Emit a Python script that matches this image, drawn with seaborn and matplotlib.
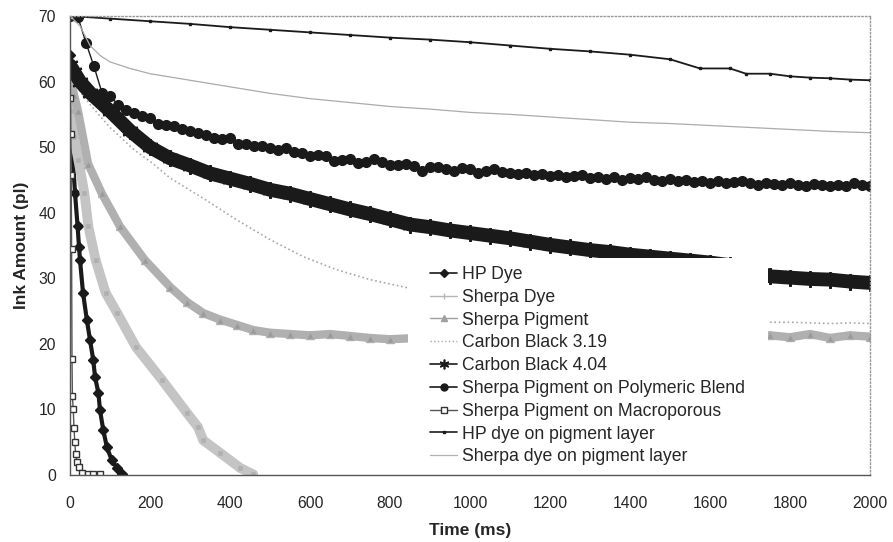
import matplotlib
matplotlib.use("Agg")
import matplotlib.pyplot as plt
from matplotlib.lines import Line2D
from matplotlib.patches import Rectangle
import seaborn as sns

sns.set_style("white")
plt.rcParams["font.family"] = ["Liberation Sans", "DejaVu Sans"]

# --- data (time in ms, ink amount in pl) ---
hp_dye_t = [0, 2, 4, 6, 7.5, 12.5, 19, 22.5, 25, 32.5, 42, 50, 58, 62.5, 71, 75, 83, 92, 104, 117, 129]
hp_dye_v = [64, 60, 55, 50, 48, 43, 37.9, 34.8, 32.8, 27.8, 23.7, 20.6, 17.6, 15, 12.5, 9.9, 6.9, 4.3, 2.3, 1.1, 0.1]

sherpa_dye_t = [0, 5, 10, 21, 36, 46, 64, 89, 118, 165, 230, 292, 320, 333, 375, 425, 458]
sherpa_dye_v = [61, 55.5, 51.5, 48, 43, 37.9, 32.8, 27.8, 24.7, 19.5, 14.5, 9.5, 7.3, 5.3, 3.4, 1.1, 0.1]

sherpa_pig_t = [0, 10, 20, 45, 79, 125, 187, 250, 292, 333, 375, 417, 458, 500, 550, 600, 650, 700, 750,
                800, 900, 1000, 1100, 1200, 1300, 1400, 1500, 1600, 1700, 1750, 1800, 1850, 1900, 1950, 2000]
sherpa_pig_v = [61, 58, 55.5, 47.5, 43, 37.9, 32.8, 28.7, 26.4, 24.7, 23.7, 22.9, 22.1, 21.7, 21.5, 21.3, 21.5, 21.2, 20.9,
                20.7, 21, 21, 21, 21, 21, 21, 21, 21, 21, 21.3, 21.0, 21.5, 20.9, 21.3, 21.1]

cb319_t = [0, 25, 50, 100, 160, 205, 250, 333, 417, 500, 583, 667, 750, 833, 900, 1000, 1100, 1200, 1300,
           1400, 1500, 1600, 1700, 1750, 1800, 1850, 1900, 1950, 2000]
cb319_v = [61, 58.5, 56.5, 53, 49.6, 47.6, 45.3, 42.2, 38.9, 35.9, 33.3, 31.3, 29.8, 28.7, 27.8, 26.9, 26.2, 25.6, 25,
           24.5, 24.1, 23.8, 23.5, 23.3, 23.3, 23.2, 23.1, 23.2, 23.1]

cb404_t = [0, 10, 25, 50, 100, 150, 200, 250, 300, 350, 400, 450, 500, 550, 600, 650, 700, 750, 800, 850, 900,
           950, 1000, 1050, 1100, 1150, 1200, 1250, 1300, 1350, 1400, 1450, 1500, 1550, 1600, 1650, 1700, 1750,
           1800, 1850, 1900, 1950, 2000]
cb404_v = [62.5, 61.5, 60, 58.3, 55.5, 52.5, 50.0, 48.3, 47.2, 46.0, 45.2, 44.4, 43.5, 42.9, 42.1, 41.3, 40.5, 39.8,
           39.0, 38.2, 37.8, 37.3, 36.9, 36.5, 36.1, 35.6, 35.1, 34.7, 34.3, 34.0, 33.6, 33.3, 33.0, 32.7, 32.4,
           32.0, 31.5, 30.3, 30.1, 29.9, 29.8, 29.5, 29.3]

poly_t = list(range(0, 2001, 20))
poly_v = [70, 69.8, 65.9, 62.3, 58.3, 57.8, 56.5, 55.7, 55.2, 54.7, 54.5, 53.5, 53.4, 53.3, 52.8, 52.5, 52.2, 51.9,
          51.4, 51.2, 51.4, 50.5, 50.5, 50.2, 50.1, 49.9, 49.5, 49.9, 49.3, 49.1, 48.7, 48.8, 48.7, 47.9, 48.1, 48.2,
          47.6, 47.8, 48.2, 47.8, 47.3, 47.3, 47.5, 47.1, 46.4, 46.9, 47.0, 46.6, 46.3, 46.8, 46.7, 46.1, 46.3, 46.7,
          46.2, 46.0, 45.9, 46.1, 45.7, 45.9, 45.6, 45.8, 45.4, 45.6, 45.7, 45.3, 45.5, 45.2, 45.4, 45.0, 45.3, 45.1,
          45.4, 45.0, 44.8, 45.1, 44.9, 45.0, 44.7, 44.9, 44.6, 44.8, 44.5, 44.7, 44.9, 44.5, 44.3, 44.6, 44.4, 44.2,
          44.5, 44.3, 44.1, 44.4, 44.2, 44.0, 44.3, 44.1, 44.5, 44.2, 44.0]

macro_t = [0, 1, 2, 3, 4, 5, 6, 8, 10, 12, 14, 18, 22, 30, 45, 58, 75]
macro_v = [70, 57.5, 52, 45.8, 34.5, 17.7, 12, 10.1, 7.2, 5, 3.2, 2.0, 1.2, 0.3, 0.2, 0.1, 0.1]

hp_pig_t = [0, 100, 200, 300, 400, 500, 600, 700, 800, 900, 1000, 1100, 1200, 1300, 1400, 1500, 1575, 1650,
            1690, 1750, 1800, 1850, 1900, 1950, 2000]
hp_pig_v = [70, 69.6, 69.2, 68.8, 68.3, 67.9, 67.5, 67.1, 66.7, 66.4, 66.0, 65.5, 65.0, 64.6, 64.1, 63.4, 62.0,
            62.0, 61.2, 61.2, 60.8, 60.6, 60.5, 60.3, 60.2]

sherpa_pig_layer_t = [0, 25, 50, 75, 100, 150, 200, 300, 400, 500, 600, 700, 800, 900, 1000, 1100, 1200, 1300,
                      1400, 1500, 1600, 1700, 1800, 1900, 2000]
sherpa_pig_layer_v = [70, 68.5, 65.5, 64, 63, 62, 61.2, 60.2, 59.2, 58.2, 57.4, 56.8, 56.2, 55.8, 55.3, 55, 54.6,
                      54.2, 53.8, 53.6, 53.3, 53.0, 52.7, 52.4, 52.2]

labels = ["HP Dye", "Sherpa Dye", "Sherpa Pigment", "Carbon Black 3.19", "Carbon Black 4.04",
          "Sherpa Pigment on Polymeric Blend", "Sherpa Pigment on Macroporous",
          "HP dye on pigment layer", "Sherpa dye on pigment layer"]

ASTERISK = (6, 2, 0)

fig = plt.figure(figsize=(8.93, 5.42), dpi=100)
ax = fig.add_axes([70 / 893, 67 / 542, 800 / 893, 459 / 542])

# (x, y, colour, marker, markersize, linewidth, linestyle, marker face)
styles = [
    (hp_dye_t, hp_dye_v, "#1a1a1a", "D", 5, 3, "-", "#1a1a1a"),
    (sherpa_dye_t, sherpa_dye_v, "#c4c4c4", "s", 5, 7, "-", "#b0b0b0"),
    (sherpa_pig_t, sherpa_pig_v, "#b0b0b0", "^", 6, 6, "-", "#9a9a9a"),
    (cb319_t, cb319_v, "#a8a8a8", "", 0, 1.2, ":", "#a8a8a8"),
    (cb404_t, cb404_v, "#1a1a1a", ASTERISK, 12, 10, "-", "#1a1a1a"),
    (poly_t, poly_v, "#1a1a1a", "o", 7, 1.0, "-", "#1a1a1a"),
    (macro_t, macro_v, "#555555", "s", 5, 1.0, "-", "white"),
    (hp_pig_t, hp_pig_v, "#1a1a1a", "s", 1.5, 1.3, "-", "#1a1a1a"),
    (sherpa_pig_layer_t, sherpa_pig_layer_v, "#ababab", "", 0, 0.9, "-", "#ababab"),
]

for x, y, c, m, ms, lw, ls, mfc in styles:
    sns.lineplot(x=x, y=y, ax=ax, color=c, marker=m if m else None, markersize=ms,
                 markerfacecolor=mfc, markeredgecolor=c if mfc != "white" else "#333333",
                 markeredgewidth=1.5 if m == ASTERISK else 1.0,
                 linewidth=lw, linestyle=ls, estimator=None, sort=False, legend=False)

# legend sits on an opaque white box that hides the data behind it
ax.add_patch(Rectangle((0.4225, 0.011), 0.45, 0.462, transform=ax.transAxes,
                       facecolor="white", edgecolor="none", zorder=4))
handles = [
    Line2D([], [], color="#1a1a1a", marker="D", markersize=4, lw=1.2),
    Line2D([], [], color="#b5b5b5", marker="|", markersize=5, lw=1),
    Line2D([], [], color="#a0a0a0", marker="^", markersize=4, lw=1),
    Line2D([], [], color="#a8a8a8", lw=1, ls=":"),
    Line2D([], [], color="#1a1a1a", marker=ASTERISK, markersize=7, mew=1.2, lw=1.2),
    Line2D([], [], color="#1a1a1a", marker="o", markersize=5, lw=1.2),
    Line2D([], [], color="#555555", marker="s", markersize=5, mfc="white", mec="#333333", lw=1),
    Line2D([], [], color="#1a1a1a", marker="s", markersize=2, lw=1.2),
    Line2D([], [], color="#b0b0b0", lw=0.9),
]
leg = ax.legend(handles, labels, loc="upper left", bbox_to_anchor=(0.45, 0.4555), frameon=False,
                fontsize=12.7, borderpad=0, borderaxespad=0, handlelength=1.55,
                handletextpad=0.25, labelspacing=0.33)
leg.set_zorder(5)

ax.set_xlim(0, 2000)
ax.set_ylim(0, 70)
ax.set_xticks(range(0, 2001, 200))
ax.set_yticks(range(0, 71, 10))
ax.tick_params(axis="both", labelsize=11.3, length=2.5, color="#444444", direction="out")
ax.tick_params(axis="x", pad=12.5)
ax.tick_params(axis="y", pad=7.5)
ax.set_xlabel("Time (ms)", fontsize=12.5, fontweight="bold", labelpad=9)
ax.set_ylabel("Ink Amount (pl)", fontsize=12.5, fontweight="bold", labelpad=7)

for side in ["top", "right"]:
    ax.spines[side].set_visible(True)
    ax.spines[side].set_color("#999999")
    ax.spines[side].set_linestyle(":")
    ax.spines[side].set_linewidth(1)
for side in ["left", "bottom"]:
    ax.spines[side].set_color("#555555")
    ax.spines[side].set_linewidth(1)

fig.savefig("out.png", dpi=100)
